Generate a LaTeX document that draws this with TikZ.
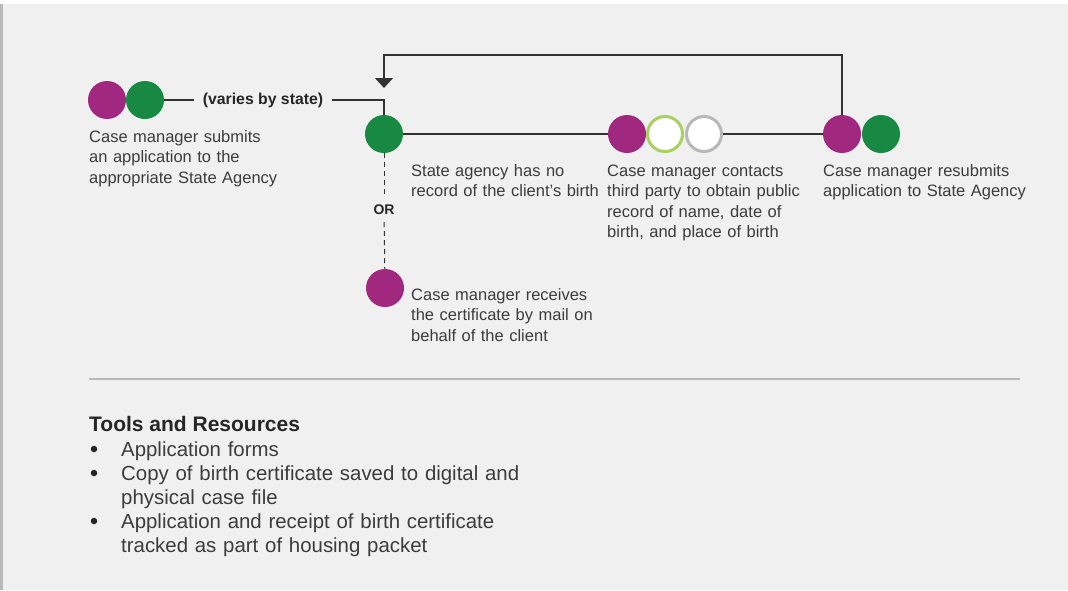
\documentclass[tikz,border=0pt]{standalone}
\usepackage{fontspec}
\setmainfont{Liberation Sans}
\usetikzlibrary{arrows.meta}

\definecolor{bgcol}{HTML}{EFF0EF}
\definecolor{barcol}{HTML}{B9B9B9}
\definecolor{magcol}{HTML}{A0287F}
\definecolor{grncol}{HTML}{188943}
\definecolor{limecol}{HTML}{A9D160}
\definecolor{ringgray}{HTML}{B8B8B8}
\definecolor{txtcol}{HTML}{3C3C3C}
\definecolor{linecol}{HTML}{333333}

\tikzset{
  dot/.style={circle, minimum size=38pt, inner sep=0pt},
  ring/.style={circle, minimum size=35pt, inner sep=0pt, fill=white, line width=3pt},
  steptext/.style={anchor=base west, inner sep=0pt, align=left, text width=260pt,
    font=\fontsize{16.5}{20.5}\selectfont, text=txtcol},
  listtext/.style={anchor=base west, inner sep=0pt, align=left, text width=420pt,
    font=\fontsize{20.4}{24}\selectfont, text=txtcol},
  bulletmark/.style={circle, fill=black!85, minimum size=6.5pt, inner sep=0pt},
  link/.style={draw=linecol, line width=1.3pt},
}

\begin{document}
\begin{tikzpicture}[x=1pt, y=-1pt]
  \useasboundingbox (0,0) rectangle (1068,590);
  \fill[white] (0,0) rectangle (1068,590);
  \fill[bgcol] (0,4) rectangle (1068,590);
  \fill[barcol] (0,4) rectangle (3,590);

  % first submission
  \node[dot, fill=magcol] (s1a) at (107,100) {};
  \node[dot, fill=grncol] (s1b) at (145,100) {};
  \node[inner xsep=9pt, font=\fontsize{15.8}{18}\selectfont\bfseries, text=black!85] (vary) at (263,100) {(varies by state)};
  \node[steptext] (t1) at (89,142) {Case manager submits\\an application to the\\appropriate State Agency};

  % state agency
  \node[dot, fill=grncol] (agency) at (384,134) {};
  \node[steptext] (t2) at (411,176) {State agency has no\\record of the client’s birth};

  % or branch
  \node[font=\fontsize{14}{16}\selectfont\bfseries, text=black!85, inner sep=7pt] (or) at (384,210) {OR};
  \node[dot, fill=magcol] (recv) at (385,288) {};
  \node[steptext] (t3) at (411,300) {Case manager receives\\the certificate by mail on\\behalf of the client};

  % third party
  \node[dot, fill=magcol] (c1) at (627,134) {};
  \node[ring, draw=limecol] (c2) at (665,134) {};
  \node[ring, draw=ringgray] (c3) at (704,134) {};
  \node[steptext] (t4) at (607,176) {Case manager contacts\\third party to obtain public\\record of name, date of\\birth, and place of birth};

  % resubmission
  \node[dot, fill=magcol] (r1) at (842,134) {};
  \node[dot, fill=grncol] (r2) at (881,134) {};
  \node[steptext] (t5) at (823,176) {Case manager resubmits\\application to State Agency};

  \coordinate (looptop) at (384,55);
  \coordinate (loopend) at (384,88);

  \draw[link] (s1b) -- (vary);
  \draw[link] (vary) -| (agency);
  \draw[link] (agency) -- (c1);
  \draw[link] (c3) -- (r1);
  \draw[link, -{Triangle[width=18pt, length=10pt]}] (r1) |- (looptop) -- (loopend);
  \draw[draw=linecol, line width=1pt, dash pattern=on 5pt off 4pt] (agency) -- (or);
  \draw[draw=linecol, line width=1pt, dash pattern=on 5pt off 4pt] (or) -- (recv);

  % tools and resources
  \draw[ringgray, line width=2pt] (89,379) -- (1020,379);
  \node[anchor=base west, inner sep=0pt, font=\fontsize{21}{24}\selectfont\bfseries, text=black!85] (tools) at (89,431) {Tools and Resources};
  \node[bulletmark] (b1) at (94,449) {};
  \node[bulletmark] (b2) at (94,473) {};
  \node[bulletmark] (b3) at (94,521) {};
  \node[listtext] (l1) at (121,456) {Application forms};
  \node[listtext] (l2) at (121,480) {Copy of birth certificate saved to digital and\\physical case file};
  \node[listtext] (l3) at (121,528) {Application and receipt of birth certificate\\tracked as part of housing packet};
\end{tikzpicture}
\end{document}
